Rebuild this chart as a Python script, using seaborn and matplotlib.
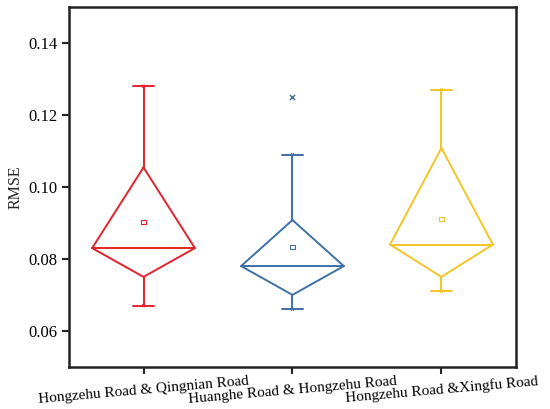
import numpy as np
import pandas as pd
import matplotlib
matplotlib.use("Agg")
import matplotlib.pyplot as plt
import seaborn as sns

# values
roads = ["Hongzehu Road & Qingnian Road",
         "Huanghe Road & Hongzehu Road",
         "Hongzehu Road &Xingfu Road"]
mins = [0.067, 0.066, 0.071]
q1 = [0.075, 0.070, 0.075]
medians = [0.083, 0.078, 0.084]
q3 = [0.1054, 0.0908, 0.1108]
maxs = [0.128, 0.109, 0.127]
means = [0.0903, 0.0833, 0.0912]
outlier_road = ["Huanghe Road & Hongzehu Road"]
outlier_val = [0.125]
colors = ["#E3232B", "#3F70A6", "#F4C526"]

sns.set_theme(style="ticks")
plt.rcParams["font.family"] = ["Liberation Serif", "DejaVu Serif"]

fig = plt.figure(figsize=(5.5, 4.09), dpi=100)
ax = fig.add_axes([0.1255, 0.103, 0.8125, 0.88])

hw = 0.345   # half width of diamond
cw = 0.07    # half width of whisker caps
lw = 1.4

for i, c in enumerate(colors):
    # diamond
    xs = [i, i + hw, i, i - hw, i]
    ys = [q3[i], medians[i], q1[i], medians[i], q3[i]]
    ax.plot(xs, ys, color=c, lw=lw)
    ax.plot([i - hw, i + hw], [medians[i], medians[i]], color=c, lw=lw)
    # whiskers
    ax.plot([i, i], [q3[i], maxs[i]], color=c, lw=lw)
    ax.plot([i, i], [q1[i], mins[i]], color=c, lw=lw)
    ax.plot([i - cw, i + cw], [maxs[i], maxs[i]], color=c, lw=lw)
    ax.plot([i - cw, i + cw], [mins[i], mins[i]], color=c, lw=lw)

df_mean = pd.DataFrame({"road": roads, "mean": means})
sns.scatterplot(data=df_mean, x="road", y="mean", hue="road", palette=colors,
                marker="s", s=9, linewidth=0.8, legend=False, ax=ax)
ax.collections[-1].set_edgecolor(colors)
ax.collections[-1].set_facecolor("none")

df_ext = pd.DataFrame({"road": roads * 2, "v": maxs + mins})
sns.scatterplot(data=df_ext, x="road", y="v", hue="road", palette=colors,
                marker="x", s=5, linewidth=0.6, legend=False, ax=ax)

df_out = pd.DataFrame({"road": outlier_road, "v": outlier_val})
sns.scatterplot(data=df_out, x="road", y="v", color=colors[1], marker="x",
                s=14, linewidth=1.0, legend=False, ax=ax)

ax.set_xlim(-0.5, 2.5)
ax.set_ylim(0.05, 0.15)
ax.set_xticks(range(3))
ax.set_xticklabels(roads, rotation=5, fontsize=11)
ax.set_yticks([0.06, 0.08, 0.10, 0.12, 0.14])
ax.set_yticklabels(["0.06", "0.08", "0.10", "0.12", "0.14"], fontsize=12)
ax.set_xlabel("")
ax.set_ylabel("RMSE", fontsize=11.5, labelpad=4)
ax.tick_params(axis="both", direction="out", length=5, width=1.5, pad=3,
               colors="#222222", labelcolor="black")
ax.tick_params(axis="x", pad=0.5)
for sp in ax.spines.values():
    sp.set_linewidth(1.8)
    sp.set_color("#222222")

fig.savefig("out.png", dpi=100)
